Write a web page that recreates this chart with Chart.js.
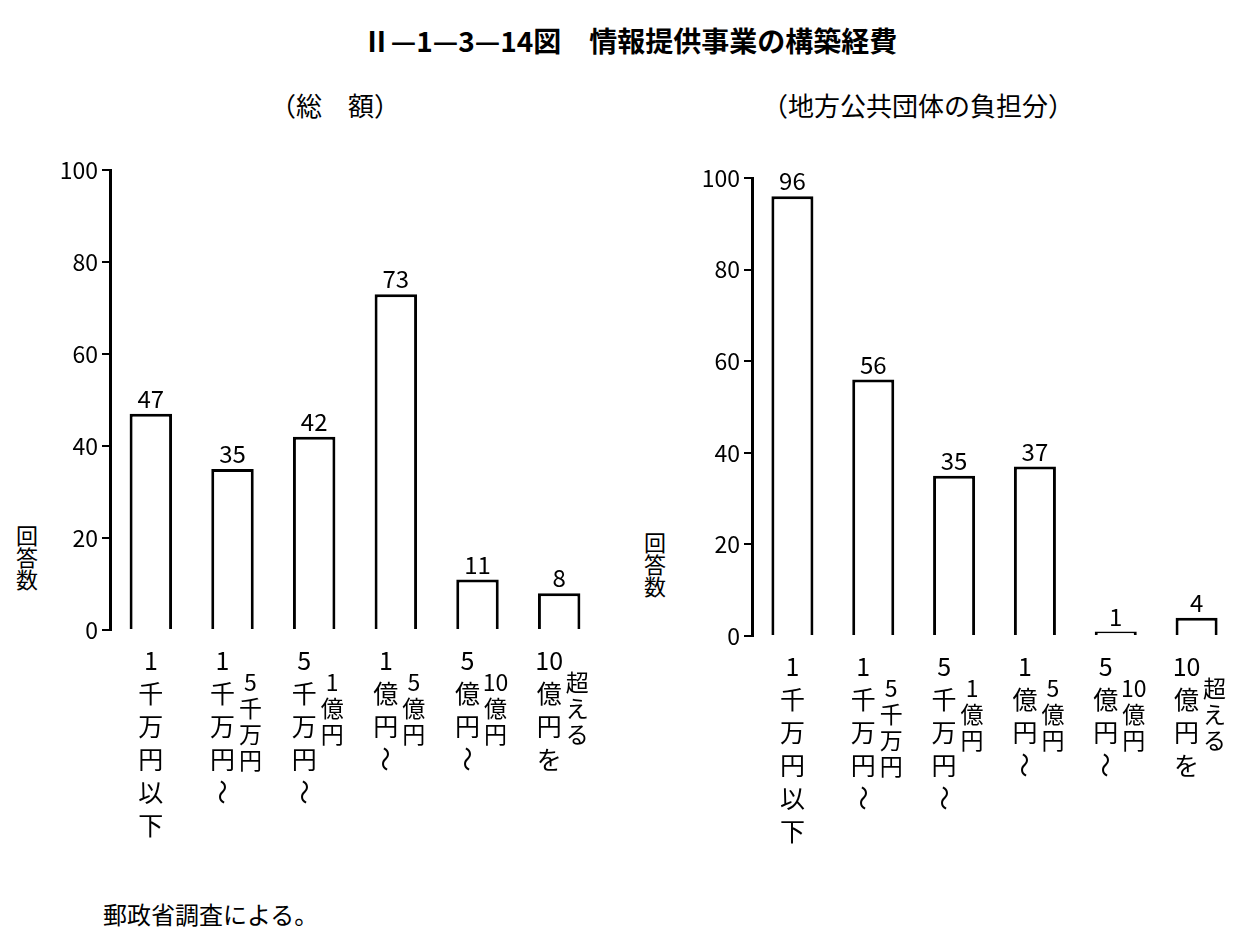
<!DOCTYPE html>
<html><head><meta charset="utf-8">
<script src="https://cdn.jsdelivr.net/npm/chart.js@4/dist/chart.umd.min.js"></script>
<style>
body{margin:0;width:1245px;height:941px;background:#fff;position:relative;font-family:"Noto Sans CJK JP",serif;color:#000;overflow:hidden}
.t{position:absolute;white-space:nowrap}
canvas{position:absolute}
</style></head><body>
<div class="t" style="left:0;width:1260px;text-align:center;top:20px;font-size:28px;font-weight:bold">Ⅱ—1—3—14図　情報提供事業の構築経費</div>
<div class="t" style="left:270px;top:86px;font-size:26px">（総　額）</div>
<div class="t" style="left:762px;top:86px;font-size:26px">（地方公共団体の負担分）</div>
<div class="t" style="left:15px;top:525px;font-size:22px;writing-mode:vertical-rl;line-height:24px">回答数</div>
<div class="t" style="left:643px;top:532px;font-size:22px;writing-mode:vertical-rl;line-height:24px">回答数</div>
<div class="t" style="left:103px;top:896px;font-size:24px">郵政省調査による。</div>
<canvas id="c1" style="left:0;top:150px"></canvas>
<canvas id="c2" style="left:640px;top:150px"></canvas>
<script>
// categories: [main column, second column]
var categories = [
  ['1千万円以下'],
  ['1千万円〜', '5千万円'],
  ['5千万円〜', '1億円'],
  ['1億円〜', '5億円'],
  ['5億円〜', '10億円'],
  ['10億円を', '超える']
];
var totalCounts = [47, 35, 42, 73, 11, 8];
var localCounts = [96, 56, 35, 37, 1, 4];
var yTicks = [0, 20, 40, 60, 80, 100];

var FONT = '"Noto Sans CJK JP", serif';

function splitChars(s) {
  return s.match(/\d+|./g);
}

var labelPlugin = {
  id: 'labels',
  afterDatasetsDraw: function (chart) {
    var ctx = chart.ctx, meta = chart.getDatasetMeta(0);
    var data = chart.data.datasets[0].data;
    ctx.save();
    ctx.fillStyle = '#000';
    ctx.textAlign = 'center';
    meta.data.forEach(function (bar, i) {
      ctx.font = '24px ' + FONT;
      ctx.textBaseline = 'bottom';
      ctx.fillText(String(data[i]), bar.x, bar.y - 3);
      // vertical category labels
      var base = chart.chartArea.bottom;
      categories[i].forEach(function (col, c) {
        var x = bar.x + (c === 0 ? (categories[i].length > 1 ? -10 : 0) : 18);
        var y = base + (c === 0 ? 30 : 52);
        var step = c === 0 ? 33 : 26;
        ctx.font = (c === 0 ? '25px ' : '23px ') + FONT;
        ctx.textBaseline = 'middle';
        splitChars(col).forEach(function (ch) {
          if (ch === '〜') {
            ctx.save(); ctx.translate(x, y); ctx.rotate(Math.PI / 2);
            ctx.fillText('〜', 0, 0); ctx.restore();
          } else {
            ctx.fillText(ch, x, y);
          }
          y += step;
        });
      });
    });
    ctx.restore();
  }
};

function makeChart(id, values, yWidth, padTop, xHeight, padRight) {
  var cv = document.getElementById(id);
  cv.width = id === 'c1' ? 620 : 605;
  cv.height = 700;
  cv.style.width = cv.width + 'px';
  cv.style.height = '700px';
  return new Chart(cv, {
    type: 'bar',
    data: {
      labels: categories.map(function (c) { return c.join(''); }),
      datasets: [{
        data: values,
        backgroundColor: '#fff',
        borderColor: '#000',
        borderWidth: 3,
        borderSkipped: 'bottom',
        barPercentage: 0.52,
        categoryPercentage: 1
      }]
    },
    options: {
      responsive: false,
      animation: false,
      devicePixelRatio: 1,
      layout: { padding: { top: padTop, right: padRight } },
      plugins: { legend: { display: false }, tooltip: { enabled: false } },
      scales: {
        x: {
          grid: { display: false },
          border: { display: false },
          ticks: { display: false },
          afterFit: function (s) { s.height = xHeight; }
        },
        y: {
          min: 0, max: 100,
          afterBuildTicks: function (s) { s.ticks = yTicks.map(function (v) { return { value: v }; }); },
          grid: { drawOnChartArea: false, tickLength: 8, color: '#000', lineWidth: 2 },
          border: { color: '#000', width: 3 },
          ticks: { color: '#000', font: { size: 23, family: FONT }, padding: 4 },
          afterFit: function (s) { s.width = yWidth; }
        }
      }
    },
    plugins: [labelPlugin]
  });
}

makeChart('c1', totalCounts, 110, 20, 220, 20);
makeChart('c2', localCounts, 112, 28, 214, 8);
</script>
</body></html>
